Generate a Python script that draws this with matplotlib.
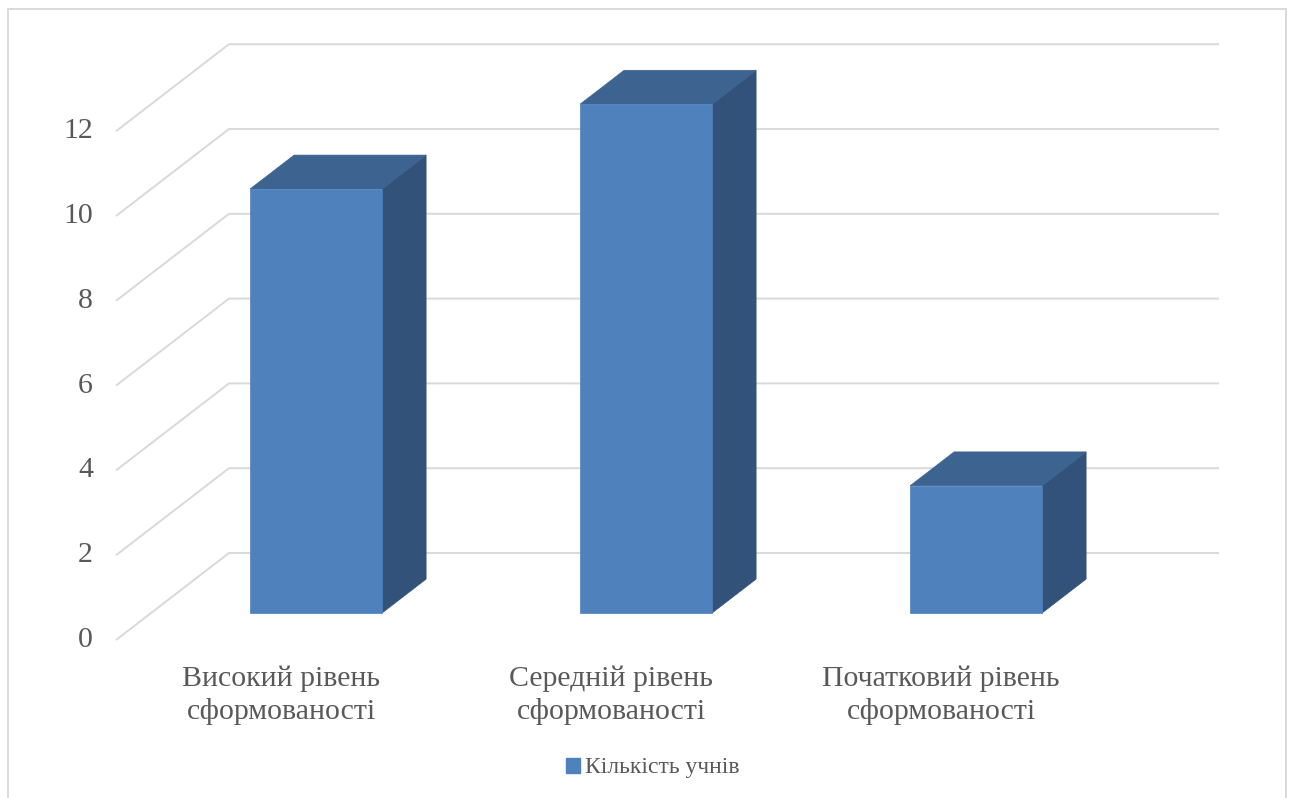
import matplotlib
matplotlib.use("Agg")
import matplotlib.pyplot as plt
from matplotlib.patches import Polygon, Patch, Rectangle

# --- data ---
categories = ["Високий рівень\nсформованості",
              "Середній рівень\nсформованості",
              "Початковий рівень\nсформованості"]
values = [10, 12, 3]
series_name = "Кількість учнів"
y_ticks = [0, 2, 4, 6, 8, 10, 12]

# --- style ---
front_c = "#4F81BD"
top_c = "#3D6391"
side_c = "#325279"
grid_c = "#D9D9D9"
text_c = "#595959"
plt.rcParams['font.family'] = ['Liberation Serif', 'DejaVu Serif']

# oblique projection of the 3D box: depth z in [0, 1]
DX = 113 / 330      # x shift (category units) for full depth
DV = 87 / 42.4      # y shift (value units) for full depth
bar_w = 0.4
z0, z1 = 0.31, 0.70


def proj(x, v, z):
    return (x + z * DX, v + z * DV)


fig = plt.figure(figsize=(12.9, 7.98), dpi=100)
ax = fig.add_axes([0, 0, 1, 1])
ax.set_xlim(-116 / 330, (1290 - 116) / 330)
ax.set_ylim((640 - 798) / 42.4, 640 / 42.4)
ax.axis('off')

n = len(categories)

# walls: side wall diagonals + back wall horizontals
for v in y_ticks:
    pts = [proj(0, v, 0), proj(0, v, 1), proj(n, v, 1)]
    ax.plot([p[0] for p in pts], [p[1] for p in pts], color=grid_c, lw=1.4,
            solid_capstyle='butt', zorder=1)
    ax.text(-0.07, v, str(v), ha='right', va='center', fontsize=21.5,
            color=text_c)

# bars
for i, h in enumerate(values):
    xa, xb = i + 0.5 - bar_w / 2, i + 0.5 + bar_w / 2
    front = [proj(xa, 0, z0), proj(xb, 0, z0), proj(xb, h, z0), proj(xa, h, z0)]
    top = [proj(xa, h, z0), proj(xb, h, z0), proj(xb, h, z1), proj(xa, h, z1)]
    side = [proj(xb, 0, z0), proj(xb, 0, z1), proj(xb, h, z1), proj(xb, h, z0)]
    for poly, c in [(side, side_c), (top, top_c), (front, front_c)]:
        ax.add_patch(Polygon(poly, closed=True, facecolor=c, edgecolor=c,
                             lw=0.5, zorder=3))
    ax.text(i + 0.5, -1.3, categories[i], ha='center', va='center',
            fontsize=21.5, color=text_c, linespacing=1.3)

# legend
ax.legend(handles=[Patch(facecolor=front_c, edgecolor=front_c, label=series_name)],
          loc='center', bbox_to_anchor=(0.506, 1 - 768 / 798), frameon=False,
          handlelength=0.6, handleheight=0.6, handletextpad=0.2,
          prop={'size': 17}, labelcolor=text_c)

# chart border
fig.patches.append(Rectangle((8 / 1290, -0.02), 1278 / 1290, 1.02 - 9 / 798,
                             transform=fig.transFigure, fill=False,
                             edgecolor=grid_c, lw=1.4))

fig.savefig("out.png", dpi=100, facecolor='white')
